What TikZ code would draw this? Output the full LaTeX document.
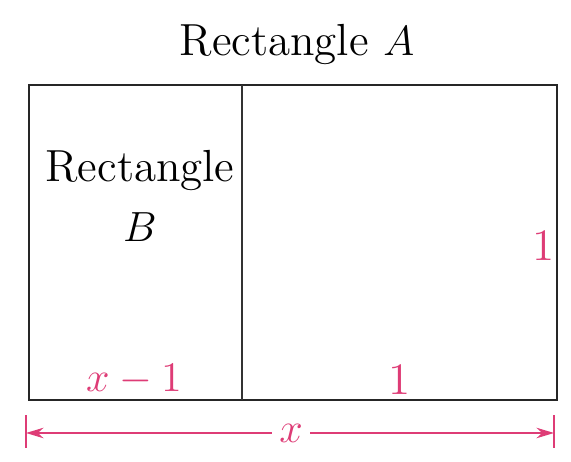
\documentclass[tikz,border=0pt]{standalone}
\usepackage{xcolor}
\usetikzlibrary{arrows.meta}
\definecolor{dimpink}{RGB}{222,60,118}

\begin{document}
\begin{tikzpicture}[>={Stealth[length=5pt,width=3pt]}, font=\fontsize{12.8}{15}\selectfont]
\useasboundingbox (0,0) rectangle (5.71,4.62);
% outer rectangle A and the split
\draw[line width=0.8pt, black!85] (0.29,0.62) rectangle (5.57,3.77);
\draw[line width=0.5pt, black!80] (2.42,0.62) -- (2.42,3.77);
\node (titleA) at (2.97,4.17) {Rectangle $A$};
\node[align=center] (labB) at (1.40,2.66) {Rectangle\\[2pt]$B$};
% side lengths
\node[dimpink] (sideR) at (5.44,2.16) {1};
\node[dimpink] (botB) at (1.34,0.82) {$x - 1$};
\node[dimpink] (botR) at (4.00,0.82) {1};
% dimension line below
\coordinate (dl) at (0.26,0.29);
\coordinate (dr) at (5.54,0.29);
\draw[dimpink, line width=0.4pt] (0.26,0.14) -- (0.26,0.47);
\draw[dimpink, line width=0.4pt] (5.54,0.14) -- (5.54,0.47);
\node[dimpink, inner sep=2pt] (xlab) at (2.91,0.29) {$x$};
\draw[->, dimpink, line width=0.4pt] (xlab) -- (dl);
\draw[->, dimpink, line width=0.4pt] (xlab) -- (dr);
\end{tikzpicture}
\end{document}
